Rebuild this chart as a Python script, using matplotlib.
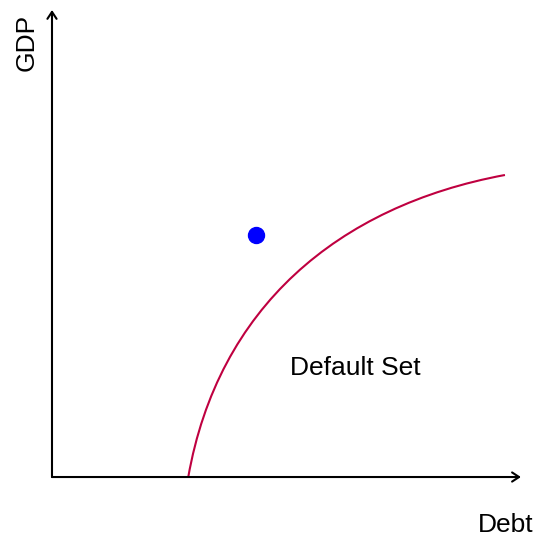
import matplotlib
matplotlib.use("Agg")
import matplotlib.pyplot as plt
from matplotlib.path import Path
from matplotlib.patches import PathPatch

plt.rcParams["font.family"] = ["Liberation Sans", "DejaVu Sans"]

# default-set boundary: one cubic bezier (start, control, control, end),
# read off the reference in (debt, gdp) units
curve_debt = [2.912, 3.547, 6.092, 9.679]
curve_gdp = [0.0, 3.612, 5.80, 6.467]

point_debt = [4.359]
point_gdp = [5.182]

region_label = "Default Set"
x_label = "Debt"
y_label = "GDP"

curve_color = "#BF0040"
fs = 19


def main():
    fig = plt.figure(figsize=(5.38, 5.36), dpi=100)
    ax = fig.add_axes([0, 0, 1, 1])
    ax.set_xlim(-1.111, 10.385)
    ax.set_ylim(-1.263, 10.214)
    ax.axis("off")

    arrow = dict(arrowstyle="->,head_length=0.5,head_width=0.33",
                 color="black", lw=1.5, shrinkA=0, shrinkB=0)
    # axes with arrow heads
    ax.annotate("", xy=(10.02, 0), xytext=(0, 0), arrowprops=arrow)
    ax.annotate("", xy=(0, 10.0), xytext=(0, 0), arrowprops=arrow)

    path = Path(list(zip(curve_debt, curve_gdp)),
                [Path.MOVETO, Path.CURVE4, Path.CURVE4, Path.CURVE4])
    ax.add_patch(PathPatch(path, fill=False, edgecolor=curve_color,
                           lw=1.5, capstyle="butt"))
    ax.plot(point_debt, point_gdp, "o", color="#0000FF", markersize=11.5)

    ax.text(6.485, 2.184, region_label, fontsize=fs, ha="center", va="baseline")
    ax.text(9.701, -1.171, x_label, fontsize=fs, ha="center", va="baseline")
    ax.text(-0.400, 9.304, y_label, fontsize=fs, rotation=90,
            rotation_mode="anchor", ha="center", va="baseline")

    fig.savefig("out.png", dpi=100)


if __name__ == "__main__":
    main()
